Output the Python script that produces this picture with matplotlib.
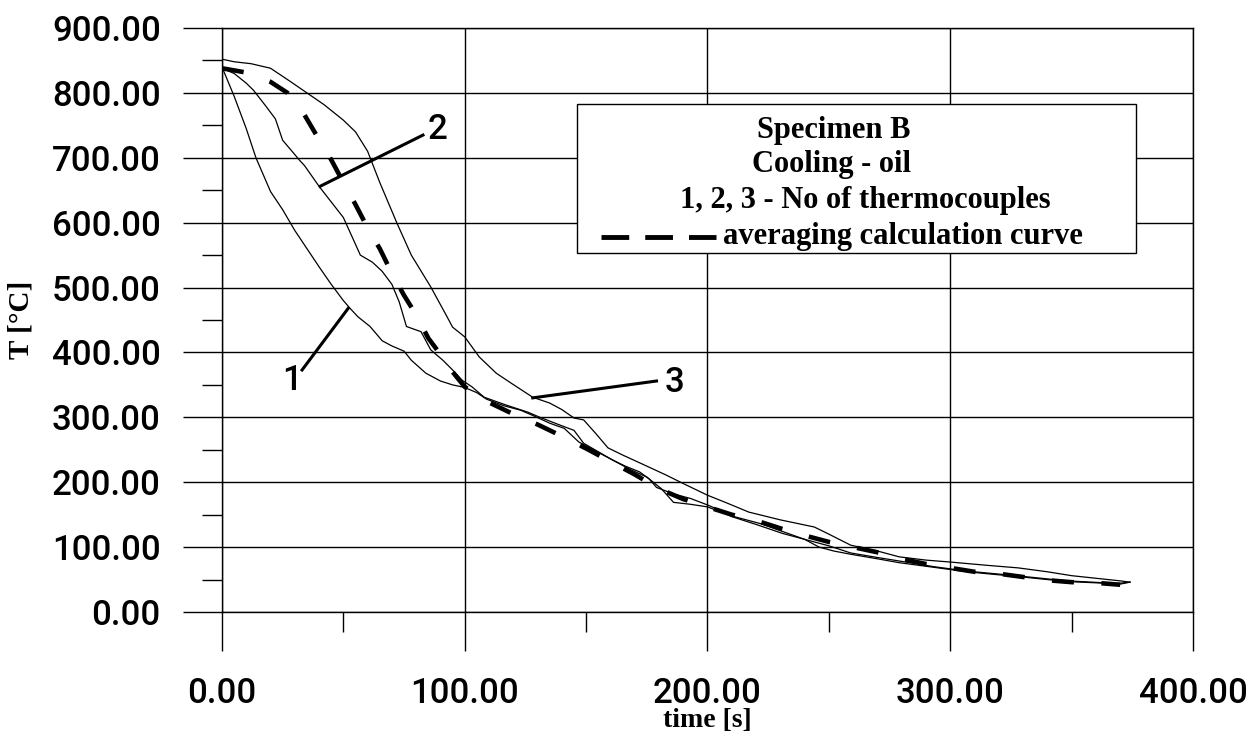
import matplotlib
matplotlib.use("Agg")
import matplotlib.pyplot as plt
from matplotlib.patches import Rectangle
from matplotlib.ticker import MultipleLocator, FormatStrFormatter

# thermocouple 1 (fastest cooling)
t1 = [0, 5, 10, 14, 20, 25, 30, 35, 40, 45, 50, 53, 56, 61, 66, 70, 75, 78, 84, 90, 95,
      100, 105, 109, 116, 123, 128, 135, 141, 147, 153, 160, 166, 172, 176, 179, 186, 193,
      200, 205, 210, 220, 231, 240, 246, 252, 259, 270, 279, 293, 307, 318, 327, 340, 348,
      360, 370, 374]
T1 = [840, 795, 745, 700, 648, 620, 588, 560, 532, 505, 480, 467, 455, 440, 418, 410, 402,
      388, 368, 356, 350, 346, 338, 328, 318, 311, 303, 291, 283, 262, 250, 236, 225, 216,
      205, 192, 182, 175, 165, 157, 147, 135, 121, 112, 100, 94, 89, 82, 76, 69, 62, 58, 55,
      50, 47, 45, 43, 46]

# thermocouple 2
t2 = [0, 5, 10, 13, 18, 22, 25, 30, 32, 34, 40, 45, 50, 54, 57, 62, 66, 70, 73, 76, 82, 86,
      91, 95, 99, 103, 108, 117, 126, 131, 140, 145, 149, 155, 161, 168, 175, 181, 186, 193,
      200, 210, 222, 231, 240, 250, 259, 270, 280, 293, 307, 327, 348, 369, 374]
T2 = [838, 830, 815, 804, 780, 760, 727, 705, 696, 688, 656, 632, 608, 575, 550, 539, 525,
      505, 478, 440, 432, 404, 388, 373, 357, 347, 331, 319, 308, 300, 287, 280, 260, 247,
      234, 220, 208, 190, 169, 166, 162, 148, 136, 124, 112, 102, 91, 84, 78, 70, 63, 56,
      48, 44, 46]

# thermocouple 3 (slowest cooling)
t3 = [0, 5, 12, 20, 28, 35, 42, 50, 55, 60, 65, 72, 78, 86, 92, 95, 100, 106, 113, 119, 128,
      135, 140, 145, 149, 154, 159, 165, 172, 183, 190, 200, 208, 217, 230, 244, 250, 259,
      270, 279, 290, 300, 315, 328, 340, 350, 360, 370, 374]
T3 = [852, 848, 845, 838, 818, 800, 782, 758, 740, 710, 662, 600, 550, 501, 460, 439, 424,
      393, 368, 353, 331, 322, 312, 299, 296, 275, 253, 242, 230, 211, 198, 180, 168, 154,
      142, 131, 120, 103, 94, 85, 80, 77, 72, 68, 62, 56, 52, 48, 46]

# averaging calculation curve
t_avg = [0, 9, 20, 27, 34, 40, 45, 50, 55, 60, 65, 70, 75, 80, 85, 90, 95, 100, 110, 120,
         130, 140, 150, 160, 170, 180, 190, 200, 210, 220, 230, 240, 250, 260, 270, 280,
         290, 300, 310, 320, 330, 340, 350, 360, 370]
T_avg = [838, 832, 817, 800, 766, 728, 697, 662, 628, 592, 560, 522, 488, 458, 422, 397,
         370, 347, 323, 305, 289, 271, 252, 232, 212, 190, 174, 162, 150, 141, 129, 118,
         108, 100, 92, 82, 74, 68, 62, 59, 54, 49, 46, 45, 42]

# curve number labels: (label, text x, text y, leader from, leader to)
labels = [("1", 29, 357, (33, 373), (52, 468)),
          ("2", 88.6, 743, (82.8, 735), (40.4, 656)),
          ("3", 186.6, 354, (179, 356), (128, 330))]

legend_lines = ["Specimen B", "Cooling - oil", "1, 2, 3 - No of thermocouples",
                "averaging calculation curve"]

serif = "Liberation Serif"
sans = "Roboto"

fig = plt.figure(figsize=(12.47, 7.43), dpi=100)
ax = fig.add_axes([0.178, 0.1763, 0.7787, 0.786])

ax.plot(t1, T1, color="black", lw=0.9, zorder=2)
ax.plot(t2, T2, color="black", lw=0.9, zorder=2)
ax.plot(t3, T3, color="black", lw=0.9, zorder=2)
ax.plot(t_avg, T_avg, color="black", lw=3.3, linestyle=(0, (4.8, 6.0)),
        dash_capstyle="butt", zorder=2)

for txt, tx, ty, p0, p1 in labels:
    ax.plot([p0[0], p1[0]], [p0[1], p1[1]], color="black", lw=2.2, zorder=2)
    ax.text(tx, ty, txt, fontsize=25, family=sans, fontweight="medium",
            ha="center", va="center")

ax.set_xlim(0, 400)
ax.set_ylim(0, 900)
ax.xaxis.set_major_locator(MultipleLocator(100))
ax.xaxis.set_minor_locator(MultipleLocator(50))
ax.yaxis.set_major_locator(MultipleLocator(100))
ax.yaxis.set_minor_locator(MultipleLocator(50))
ax.xaxis.set_major_formatter(FormatStrFormatter("%.2f"))
ax.yaxis.set_major_formatter(FormatStrFormatter("%.2f"))
ax.grid(True, which="major", color="black", lw=1)
for s in ax.spines.values():
    s.set_linewidth(1)

ax.tick_params(which="major", length=28, width=1, labelsize=25)
ax.tick_params(which="minor", length=14.5, width=1)
ax.tick_params(axis="x", which="major", pad=19)
ax.tick_params(axis="y", which="major", pad=16)
for lab in ax.get_xticklabels() + ax.get_yticklabels():
    lab.set_family(sans)
    lab.set_fontweight("medium")

ax.set_xlabel("time [s]", family=serif, fontweight="bold", fontsize=20)
ax.xaxis.set_label_coords(0.5, -0.165)
ax.set_ylabel("T [\u00b0C]", family=serif, fontweight="bold", fontsize=21)
ax.yaxis.set_label_coords(-0.193, 0.5)

# legend box
ax.add_patch(Rectangle((0.3656, 0.6147), 0.5757, 0.2552, transform=ax.transAxes,
                       facecolor="white", edgecolor="black", lw=1, zorder=3))
text_pos = [(0.551, 0.8253), (0.5458, 0.7671), (0.4717, 0.7038), (0.516, 0.6438)]
for line, (lx, ly) in zip(legend_lines, text_pos):
    ax.text(lx, ly, line, transform=ax.transAxes, family=serif, fontweight="bold",
            fontsize=22, ha="left", va="center", zorder=4)
ax.plot([0.3903, 0.5088], [0.6418, 0.6418], transform=ax.transAxes, color="black",
        lw=3.5, linestyle=(0, (5.7, 3.3)), dash_capstyle="butt", zorder=4)

fig.savefig("out.png", dpi=100)
